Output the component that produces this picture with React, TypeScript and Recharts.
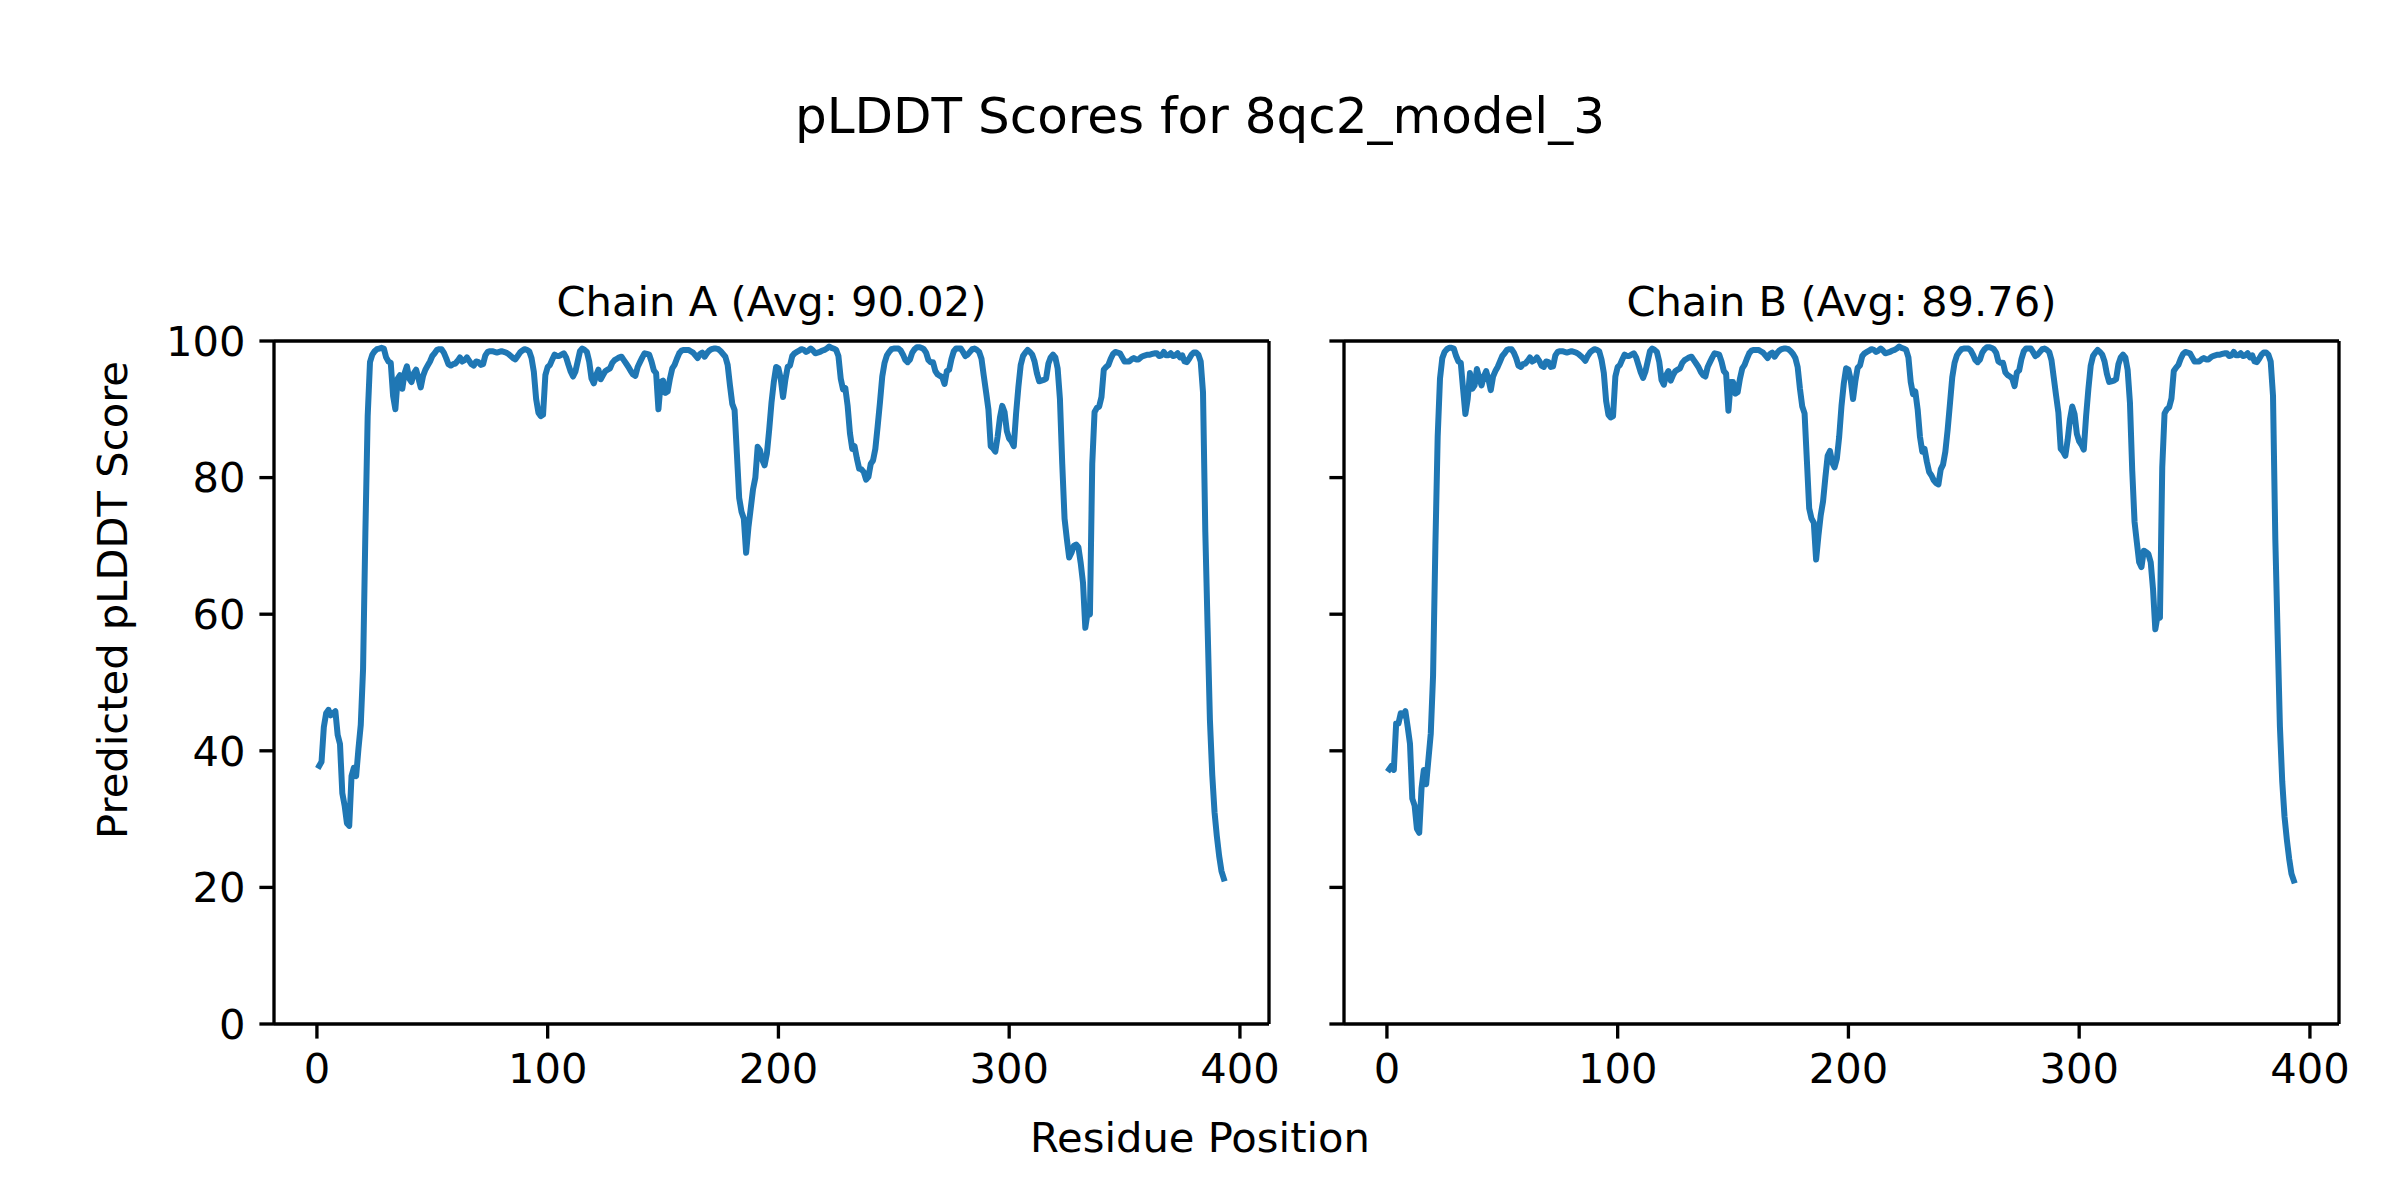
import React from "react";
import { LineChart, Line, XAxis, YAxis } from "recharts";

// Residue positions 1..393
const residues: number[] = Array.from({ length: 393 }, (_, i) => i + 1);

const chainA: number[] = [
  37.8, 38.4, 43.5, 45.5, 46.0, 45.2, 45.5, 45.8, 42.3, 41.0,
  33.8, 32.0, 29.4, 29.0, 36.3, 37.5, 36.3, 40.3, 43.8, 52.0,
  72.0, 89.0, 96.9, 98.0, 98.5, 98.8, 98.9, 99.0, 98.9, 97.6,
  97.0, 96.8, 92.0, 90.0, 94.5, 95.0, 93.0, 95.3, 96.3, 94.5,
  94.0, 95.3, 95.8, 94.5, 93.2, 94.9, 95.8, 96.4, 97.0, 97.8,
  98.2, 98.7, 98.8, 98.8, 98.3, 97.5, 96.6, 96.4, 96.6, 96.7,
  97.1, 97.6, 97.0, 97.2, 97.6, 97.1, 96.6, 96.4, 97.0, 96.9,
  96.5, 96.6, 97.9, 98.4, 98.5, 98.5, 98.4, 98.3, 98.4, 98.5,
  98.4, 98.3, 98.1, 97.8, 97.5, 97.3, 97.8, 98.3, 98.6, 98.8,
  98.7, 98.5, 97.5, 95.5, 91.5, 89.5, 89.0, 89.2, 95.0, 96.2,
  96.5, 97.3, 98.0, 97.8, 97.8, 98.0, 98.2, 97.6, 96.5, 95.5,
  94.8, 95.5, 97.0, 98.5, 98.9, 98.7, 98.4, 97.0, 94.5, 93.8,
  95.0, 95.8, 94.4, 95.0, 95.6, 95.8, 96.0, 96.8, 97.2, 97.4,
  97.6, 97.7, 97.2, 96.7, 96.2, 95.6, 95.1, 94.9, 96.2, 96.9,
  97.6, 98.2, 98.1, 98.0, 97.0, 95.7, 95.3, 90.0, 94.0, 94.2,
  92.4, 92.6, 94.5, 96.0, 96.5, 97.4, 98.2, 98.6, 98.7, 98.7,
  98.7, 98.5, 98.3, 97.9, 97.5, 98.1, 98.3, 97.7, 98.2, 98.6,
  98.8, 98.9, 98.9, 98.8, 98.5, 98.1, 97.7, 96.5, 93.5, 90.8,
  89.9, 83.5, 77.0, 75.0, 74.0, 69.0, 72.7, 75.5, 78.3, 80.0,
  84.5, 84.0, 82.6, 81.8, 83.5, 87.0, 91.0, 94.0, 96.2, 96.0,
  94.5, 91.8, 94.3, 96.2, 96.4, 97.8, 98.2, 98.4, 98.6, 98.8,
  98.7, 98.4, 98.6, 98.9, 98.6, 98.2, 98.3, 98.4, 98.6, 98.7,
  98.9, 99.2, 99.0, 98.9, 98.7, 97.8, 94.5, 92.9, 93.1, 90.5,
  86.5, 84.2, 84.6, 82.8, 81.3, 81.2, 80.8, 79.7, 80.1, 82.0,
  82.5, 84.2, 87.5, 91.0, 94.8, 96.8, 97.9, 98.4, 98.8, 98.9,
  98.9, 98.9, 98.6, 98.0, 97.2, 96.9, 97.3, 98.3, 98.8, 99.1,
  99.1, 99.0, 98.8, 98.3, 97.2, 96.9, 96.9, 95.6, 95.1, 94.9,
  94.7, 93.7, 95.6, 95.8, 97.4, 98.5, 98.9, 98.9, 98.9, 98.4,
  97.8, 98.0, 98.4, 98.8, 98.9, 98.7, 98.4, 97.4, 94.9, 92.5,
  90.0, 84.6, 84.3, 83.8, 86.0, 88.8, 90.5, 89.6, 86.8, 85.7,
  85.3, 84.6, 89.4, 93.3, 96.5, 97.8, 98.3, 98.7, 98.4, 98.0,
  97.0, 95.3, 94.1, 94.2, 94.3, 94.5, 96.7, 97.6, 98.0, 97.6,
  96.0, 91.5, 82.0, 74.0, 71.0, 68.3, 69.0, 70.0, 70.2, 69.8,
  67.5, 64.6, 58.0, 60.3, 60.0, 82.0, 89.6, 90.2, 90.4, 91.8,
  95.8, 96.2, 96.5, 97.4, 98.1, 98.4, 98.3, 98.2, 97.6, 97.0,
  97.0, 97.0, 97.3, 97.5, 97.3, 97.3, 97.6, 97.8, 97.9, 98.0,
  98.0, 98.1, 98.2, 98.2, 97.8, 97.9, 98.4, 97.9, 97.9, 98.2,
  97.8, 97.9, 98.2, 97.6, 97.9, 97.0, 96.9, 97.4, 98.0, 98.3,
  98.3, 98.0, 97.0, 92.5, 72.0, 58.0, 44.5, 36.5, 31.0, 27.5,
  24.6, 22.4, 21.3,
];

const chainB: number[] = [
  37.3, 37.8, 37.2, 44.0, 44.0, 45.5, 45.2, 45.8, 43.5, 41.0,
  33.0, 32.0, 28.6, 28.0, 34.5, 37.2, 35.1, 38.8, 42.5, 51.0,
  70.0, 86.0, 94.5, 97.5, 98.4, 98.8, 99.0, 99.0, 98.9, 97.8,
  97.0, 96.8, 93.0, 89.3, 91.5, 95.3, 93.0, 93.5, 95.9, 94.6,
  93.5, 94.8, 95.6, 94.4, 92.8, 94.8, 95.6, 96.2, 97.0, 97.8,
  98.2, 98.7, 98.8, 98.8, 98.3, 97.5, 96.4, 96.2, 96.6, 96.7,
  97.1, 97.6, 97.0, 97.2, 97.6, 97.1, 96.4, 96.2, 97.0, 96.9,
  96.2, 96.3, 97.9, 98.4, 98.5, 98.5, 98.4, 98.3, 98.4, 98.5,
  98.4, 98.3, 98.1, 97.8, 97.5, 97.1, 97.8, 98.3, 98.6, 98.8,
  98.7, 98.5, 97.3, 95.3, 91.2, 89.2, 88.8, 89.0, 94.8, 96.2,
  96.5, 97.3, 98.0, 97.8, 97.8, 98.0, 98.2, 97.6, 96.5, 95.4,
  94.6, 95.5, 97.0, 98.5, 98.9, 98.7, 98.4, 97.0, 94.3, 93.6,
  95.0, 95.6, 94.2, 95.0, 95.6, 95.8, 96.0, 96.8, 97.2, 97.4,
  97.6, 97.7, 97.2, 96.7, 96.2, 95.5, 95.0, 94.8, 96.2, 96.9,
  97.6, 98.2, 98.1, 98.0, 97.0, 95.6, 95.2, 89.8, 94.0, 94.0,
  92.3, 92.5, 94.5, 96.0, 96.5, 97.4, 98.2, 98.6, 98.7, 98.7,
  98.7, 98.5, 98.3, 97.9, 97.5, 98.1, 98.3, 97.7, 98.2, 98.6,
  98.8, 98.9, 98.9, 98.8, 98.5, 98.1, 97.5, 96.2, 93.0, 90.4,
  89.4, 82.5, 75.5, 74.0, 73.4, 68.0, 71.5, 74.5, 76.5, 80.0,
  83.2, 83.9, 82.2, 81.5, 82.8, 86.0, 90.5, 93.8, 96.0, 95.8,
  94.3, 91.5, 94.1, 96.1, 96.4, 97.8, 98.2, 98.4, 98.6, 98.8,
  98.7, 98.4, 98.6, 98.9, 98.6, 98.2, 98.3, 98.4, 98.6, 98.7,
  98.9, 99.2, 99.0, 98.9, 98.7, 97.6, 94.0, 92.2, 92.6, 90.0,
  86.0, 83.8, 84.2, 82.3, 80.8, 80.3, 79.6, 79.2, 79.0, 81.2,
  81.9, 83.8, 87.0, 90.8, 94.7, 96.8, 97.9, 98.4, 98.8, 98.9,
  98.9, 98.9, 98.6, 98.0, 97.2, 96.9, 97.3, 98.3, 98.8, 99.1,
  99.1, 99.0, 98.8, 98.3, 97.0, 96.8, 96.8, 95.4, 95.0, 94.8,
  94.5, 93.4, 95.4, 95.7, 97.4, 98.5, 98.9, 98.9, 98.9, 98.4,
  97.8, 98.0, 98.4, 98.8, 98.9, 98.7, 98.4, 97.2, 94.6, 92.0,
  89.5, 84.2, 83.8, 83.2, 85.5, 88.5, 90.4, 89.3, 86.4, 85.3,
  84.8, 84.1, 89.0, 93.0, 96.4, 97.8, 98.3, 98.7, 98.4, 98.0,
  97.0, 95.2, 94.0, 94.1, 94.2, 94.4, 96.6, 97.6, 98.0, 97.6,
  95.8, 91.0, 81.0, 73.5, 70.5, 67.6, 66.9, 69.3, 69.1, 68.8,
  67.6, 63.7, 57.8, 59.8, 59.5, 81.5, 89.4, 90.0, 90.3, 91.6,
  95.6, 96.1, 96.5, 97.4, 98.1, 98.4, 98.3, 98.2, 97.6, 97.0,
  97.0, 97.0, 97.3, 97.5, 97.3, 97.3, 97.6, 97.8, 97.9, 98.0,
  98.0, 98.1, 98.2, 98.2, 97.8, 97.9, 98.4, 97.9, 97.9, 98.2,
  97.8, 97.9, 98.2, 97.6, 97.9, 97.0, 96.9, 97.4, 98.0, 98.3,
  98.3, 98.0, 97.0, 92.0, 71.0, 57.0, 43.5, 35.5, 30.3, 27.0,
  24.2, 22.0, 21.0,
];

const xTicks: number[] = [0, 100, 200, 300, 400];
const yTicks: number[] = [0, 20, 40, 60, 80, 100];
const panelTitles: string[] = ["Chain A (Avg: 90.02)", "Chain B (Avg: 89.76)"];
const figureTitle = "pLDDT Scores for 8qc2_model_3";
const xLabel = "Residue Position";
const yLabel = "Predicted pLDDT Score";

const FONT = "'DejaVu Sans', sans-serif";
const BLUE = "#1f77b4";
const SPINE = 3.33;
const TICK_LEN = 14.6;
const TICK_FONT = 41.67;

const dataA = residues.map((r, i) => ({ r, v: chainA[i] }));
const dataB = residues.map((r, i) => ({ r, v: chainB[i] }));

const CHART_W = 1300;
const CHART_H = 1100;
const PLOT_LEFT = 274;
const PLOT_RIGHT = 1269;
const PLOT_TOP = 341;
const PLOT_BOTTOM = 1024;
const Y_AXIS_W = 100;
const X_AXIS_H = 70;
const MIRROR = 1; // thickness of mirror (top/right) axis boxes
const X_DOMAIN: [number, number] = [-18.6, 412.6];
const Y_DOMAIN: [number, number] = [0, 100];

const EmptyTick = () => <g />;

function Panel({ data, showYLabels }: { data: { r: number; v: number }[]; showYLabels: boolean }) {
  const tickStyle = { fill: "#000", fontSize: TICK_FONT, fontFamily: FONT };
  return (
    <LineChart
      width={CHART_W}
      height={CHART_H}
      data={data}
      margin={{
        top: PLOT_TOP - MIRROR,
        left: PLOT_LEFT - Y_AXIS_W,
        right: CHART_W - PLOT_RIGHT - MIRROR,
        bottom: CHART_H - PLOT_BOTTOM - X_AXIS_H,
      }}
    >
      <XAxis
        dataKey="r"
        type="number"
        domain={X_DOMAIN}
        allowDataOverflow
        ticks={xTicks}
        interval={0}
        height={X_AXIS_H}
        tickSize={TICK_LEN}
        tickMargin={15}
        axisLine={{ stroke: "#000", strokeWidth: SPINE }}
        tickLine={{ stroke: "#000", strokeWidth: SPINE }}
        tick={tickStyle}
      />
      <XAxis
        xAxisId="top"
        orientation="top"
        dataKey="r"
        type="number"
        domain={X_DOMAIN}
        allowDataOverflow
        height={MIRROR}
        tick={false}
        tickLine={false}
        axisLine={{ stroke: "#000", strokeWidth: SPINE }}
      />
      <YAxis
        type="number"
        domain={Y_DOMAIN}
        allowDataOverflow
        ticks={yTicks}
        interval={0}
        width={Y_AXIS_W}
        tickSize={TICK_LEN}
        tickMargin={14}
        axisLine={{ stroke: "#000", strokeWidth: SPINE }}
        tickLine={{ stroke: "#000", strokeWidth: SPINE }}
        tick={showYLabels ? tickStyle : EmptyTick}
      />
      <YAxis
        yAxisId="right"
        orientation="right"
        type="number"
        domain={Y_DOMAIN}
        allowDataOverflow
        width={MIRROR}
        tick={false}
        tickLine={false}
        axisLine={{ stroke: "#000", strokeWidth: SPINE }}
      />
      {/* invisible series bound to the mirror axes so the top/right spines render */}
      <Line
        xAxisId="top"
        yAxisId="right"
        type="linear"
        dataKey="v"
        stroke="none"
        strokeWidth={0}
        dot={false}
        activeDot={false}
        legendType="none"
        isAnimationActive={false}
      />
      <Line
        type="linear"
        dataKey="v"
        stroke={BLUE}
        strokeWidth={6}
        strokeLinejoin="round"
        strokeLinecap="square"
        dot={false}
        activeDot={false}
        isAnimationActive={false}
      />
    </LineChart>
  );
}

export default function App() {
  const PANEL_OFFSET = 1070;
  const centerA = (PLOT_LEFT + PLOT_RIGHT) / 2;
  const centerB = centerA + PANEL_OFFSET;
  return (
    <div
      style={{
        position: "absolute",
        left: 0,
        top: 0,
        width: 2400,
        height: 1200,
        background: "#fff",
        overflow: "hidden",
        fontFamily: FONT,
      }}
    >
      <div style={{ position: "absolute", left: 0, top: 0 }}>
        <Panel data={dataA} showYLabels={true} />
      </div>
      <div style={{ position: "absolute", left: PANEL_OFFSET, top: 0 }}>
        <Panel data={dataB} showYLabels={false} />
      </div>
      <svg
        width={2400}
        height={1200}
        style={{ position: "absolute", left: 0, top: 0, pointerEvents: "none" }}
      >
        <text x={1200} y={133} textAnchor="middle" fontSize={50} fontFamily={FONT} fill="#000">
          {figureTitle}
        </text>
        <text x={centerA} y={316} textAnchor="middle" fontSize={TICK_FONT} fontFamily={FONT} fill="#000">
          {panelTitles[0]}
        </text>
        <text x={centerB} y={316} textAnchor="middle" fontSize={TICK_FONT} fontFamily={FONT} fill="#000">
          {panelTitles[1]}
        </text>
        <text x={1200} y={1152} textAnchor="middle" fontSize={TICK_FONT} fontFamily={FONT} fill="#000">
          {xLabel}
        </text>
        <text
          transform="translate(127,600) rotate(-90)"
          textAnchor="middle"
          fontSize={TICK_FONT}
          fontFamily={FONT}
          fill="#000"
        >
          {yLabel}
        </text>
      </svg>
    </div>
  );
}
